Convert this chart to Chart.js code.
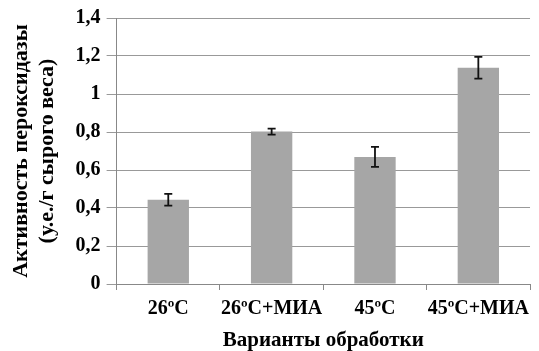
<!DOCTYPE html>
<html>
<head>
<meta charset="utf-8">
<script src="https://cdn.jsdelivr.net/npm/chart.js@4.4.0/dist/chart.umd.min.js"></script>
<style>
html,body{margin:0;padding:0;background:#fff;}
#wrap{width:539px;height:351px;}
</style>
</head>
<body>
<div id="wrap"><canvas id="chart"></canvas></div>
<script>
// data
let labels=["26ºC","26ºC+МИА","45ºC","45ºC+МИА"];
let values=[0.443,0.802,0.669,1.138];
let errors=[0.031,0.016,0.053,0.057];
let yTicks=[0,0.2,0.4,0.6,0.8,1,1.2,1.4];

let font="'Liberation Serif','Times New Roman',serif";

// error bars drawn through the y scale
let errorBars={
id:"errorBars",
afterDatasetsDraw(chart){
let ctx=chart.ctx;
let y=chart.scales.y;
let meta=chart.getDatasetMeta(0);
ctx.save();
ctx.strokeStyle="#111";
ctx.lineWidth=1.8;
meta.data.forEach((bar,i)=>{
let x=bar.x;
let top=y.getPixelForValue(values[i]+errors[i]);
let bot=y.getPixelForValue(values[i]-errors[i]);
ctx.beginPath();
ctx.moveTo(x,top);ctx.lineTo(x,bot);
ctx.moveTo(x-4,top);ctx.lineTo(x+4,top);
ctx.moveTo(x-4,bot);ctx.lineTo(x+4,bot);
ctx.stroke();
});
ctx.restore();
}
};

new Chart(document.getElementById("chart"),{
type:"bar",
data:{
labels:labels,
datasets:[{
data:values,
backgroundColor:"#a6a6a6",
borderWidth:0,
categoryPercentage:1,
barPercentage:0.4
}]
},
options:{
responsive:true,
maintainAspectRatio:false,
animation:false,
layout:{padding:{top:16,right:8,left:9,bottom:0}},
plugins:{legend:{display:false},tooltip:{enabled:false}},
scales:{
x:{
grid:{display:true,drawOnChartArea:false,offset:true,color:"#888",tickLength:6},
border:{color:"#888"},
ticks:{color:"#000",font:{family:font,size:20,weight:"bold",lineHeight:1},padding:9,maxRotation:0,autoSkip:false},
title:{display:true,text:"Варианты обработки",color:"#000",font:{family:font,size:21,weight:"bold",lineHeight:1},padding:{top:2,bottom:0}}
},
y:{
min:0,max:1.4,
afterBuildTicks(axis){axis.ticks=yTicks.map(v=>({value:v}));},
grid:{color:"#999",tickLength:10},
border:{color:"#888"},
ticks:{color:"#000",font:{family:font,size:20,weight:"bold"},padding:6,
callback:v=>String(v).replace(".",",")},
title:{display:true,text:["Активность пероксидазы","(у.е./г сырого веса)"],color:"#000",
font:{family:font,size:22,weight:"bold",lineHeight:1.15},padding:{top:0,bottom:10}}
}
}
},
plugins:[errorBars]
});
</script>
</body>
</html>
